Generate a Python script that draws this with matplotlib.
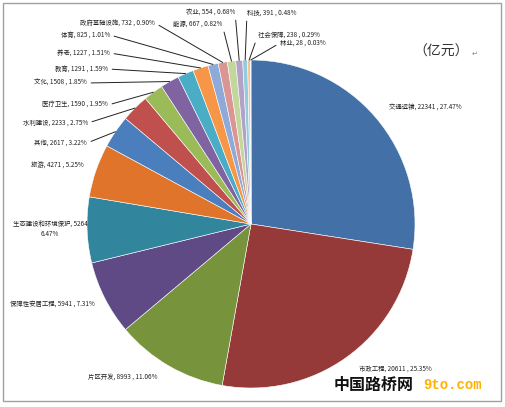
import matplotlib
matplotlib.use("Agg")
import matplotlib.pyplot as plt
import numpy as np

plt.rcParams['font.family'] = ['Noto Sans CJK SC', 'DejaVu Sans']

# data (亿元)
names = ['交通运输', '市政工程', '片区开发', '保障性安居工程', '生态建设和环境保护',
         '旅游', '其他', '水利建设', '医疗卫生', '文化', '教育', '养老', '体育',
         '政府基础设施', '能源', '农业', '科技', '社会保障', '林业']
values = [22341, 20611, 8993, 5941, 5264, 4271, 2617, 2233, 1590, 1508, 1291,
          1227, 825, 732, 667, 554, 391, 238, 28]
pcts = [27.47, 25.35, 11.06, 7.31, 6.47, 5.25, 3.22, 2.75, 1.95, 1.85, 1.59,
        1.51, 1.01, 0.90, 0.82, 0.68, 0.48, 0.29, 0.03]

colors = ['#4470A8', '#953A38', '#77933C', '#5F4A86', '#31869E', '#E0742A',
          '#4A7EBC', '#C0504D', '#9BBB59', '#8064A2', '#4BACC6', '#F79646',
          '#8EAAD9', '#D99694', '#C3D69B', '#B3A2C7', '#93CDDD', '#FAC090',
          '#A5B8D8']

W, H = 506, 407
cx, cy, r = 251, H - 224, 164

# label layout: (x, y in pixels from top-left, ha, leader?)
lab_pos = [(425, 108, 'center', False), (395, 369, 'center', False),
           (123, 377, 'center', False), (52, 304, 'center', False),
           (50, 229, 'center', False), (57, 166, 'center', False),
           (87, 143, 'right', True), (88, 123, 'right', True),
           (108, 105, 'right', True), (87, 83, 'right', True),
           (108, 69, 'right', True), (110, 53, 'right', True),
           (110, 35, 'right', True), (155, 23, 'right', True),
           (222, 24, 'right', True), (235, 12, 'right', True),
           (247, 13, 'left', True), (258, 35, 'left', True),
           (280, 43, 'left', True)]

fig = plt.figure(figsize=(W / 100, H / 100), dpi=100)
ax = fig.add_axes([0, 0, 1, 1])

wedges, _ = ax.pie(values, colors=colors, startangle=90, counterclock=False,
                   center=(cx, cy), radius=r,
                   wedgeprops=dict(edgecolor='white', linewidth=0.4))
ax.set_xlim(0, W)
ax.set_ylim(0, H)
ax.set_aspect('equal')
ax.axis('off')

total = float(sum(values))
cum = np.cumsum([0] + values[:-1])
for i, (n, v, p) in enumerate(zip(names, values, pcts)):
    tx, ty, ha, leader = lab_pos[i]
    txt = f'{n}, {v} , {p:.2f}%'
    if n == '生态建设和环境保护':
        txt = f'{n}, {v}\n{p:.2f}%'
    if leader:
        ang = np.deg2rad(90 - 360 * (cum[i] + v / 2) / total)
        ex, ey = cx + r * np.cos(ang), cy + r * np.sin(ang)
        ax.annotate(txt, xy=(ex, ey), xytext=(tx, H - ty), ha=ha, va='center',
                    fontsize=4.6, color='#222222',
                    arrowprops=dict(arrowstyle='-', color='#222222', lw=0.7,
                                    shrinkA=1, shrinkB=0,
                                    relpos=(1, 0.5) if ha == 'right' else (0, 0.5)))
    else:
        ax.text(tx, H - ty, txt, ha=ha, va='center', fontsize=4.6,
                color='#222222', linespacing=1.3)

ax.text(441, H - 52, '（亿元）', ha='center', va='center', fontsize=10,
        color='#333333')
ax.text(472, H - 54, '↵', ha='left', va='center', fontsize=5,
        color='#888888', family='DejaVu Sans')
ax.text(374, H - 385, '中国路桥网', ha='center', va='center', fontsize=11.5,
        fontweight='bold', color='#111111')
ax.text(453, H - 385, '9to.com', ha='center', va='center', fontsize=10,
        fontweight='bold', color='#FFB100', family='Liberation Mono')

ax.add_patch(plt.Rectangle((3, H - 401), 498, 398, fill=False,
                           edgecolor='#A0A0A0', lw=1))

fig.savefig('out.png', dpi=100)
